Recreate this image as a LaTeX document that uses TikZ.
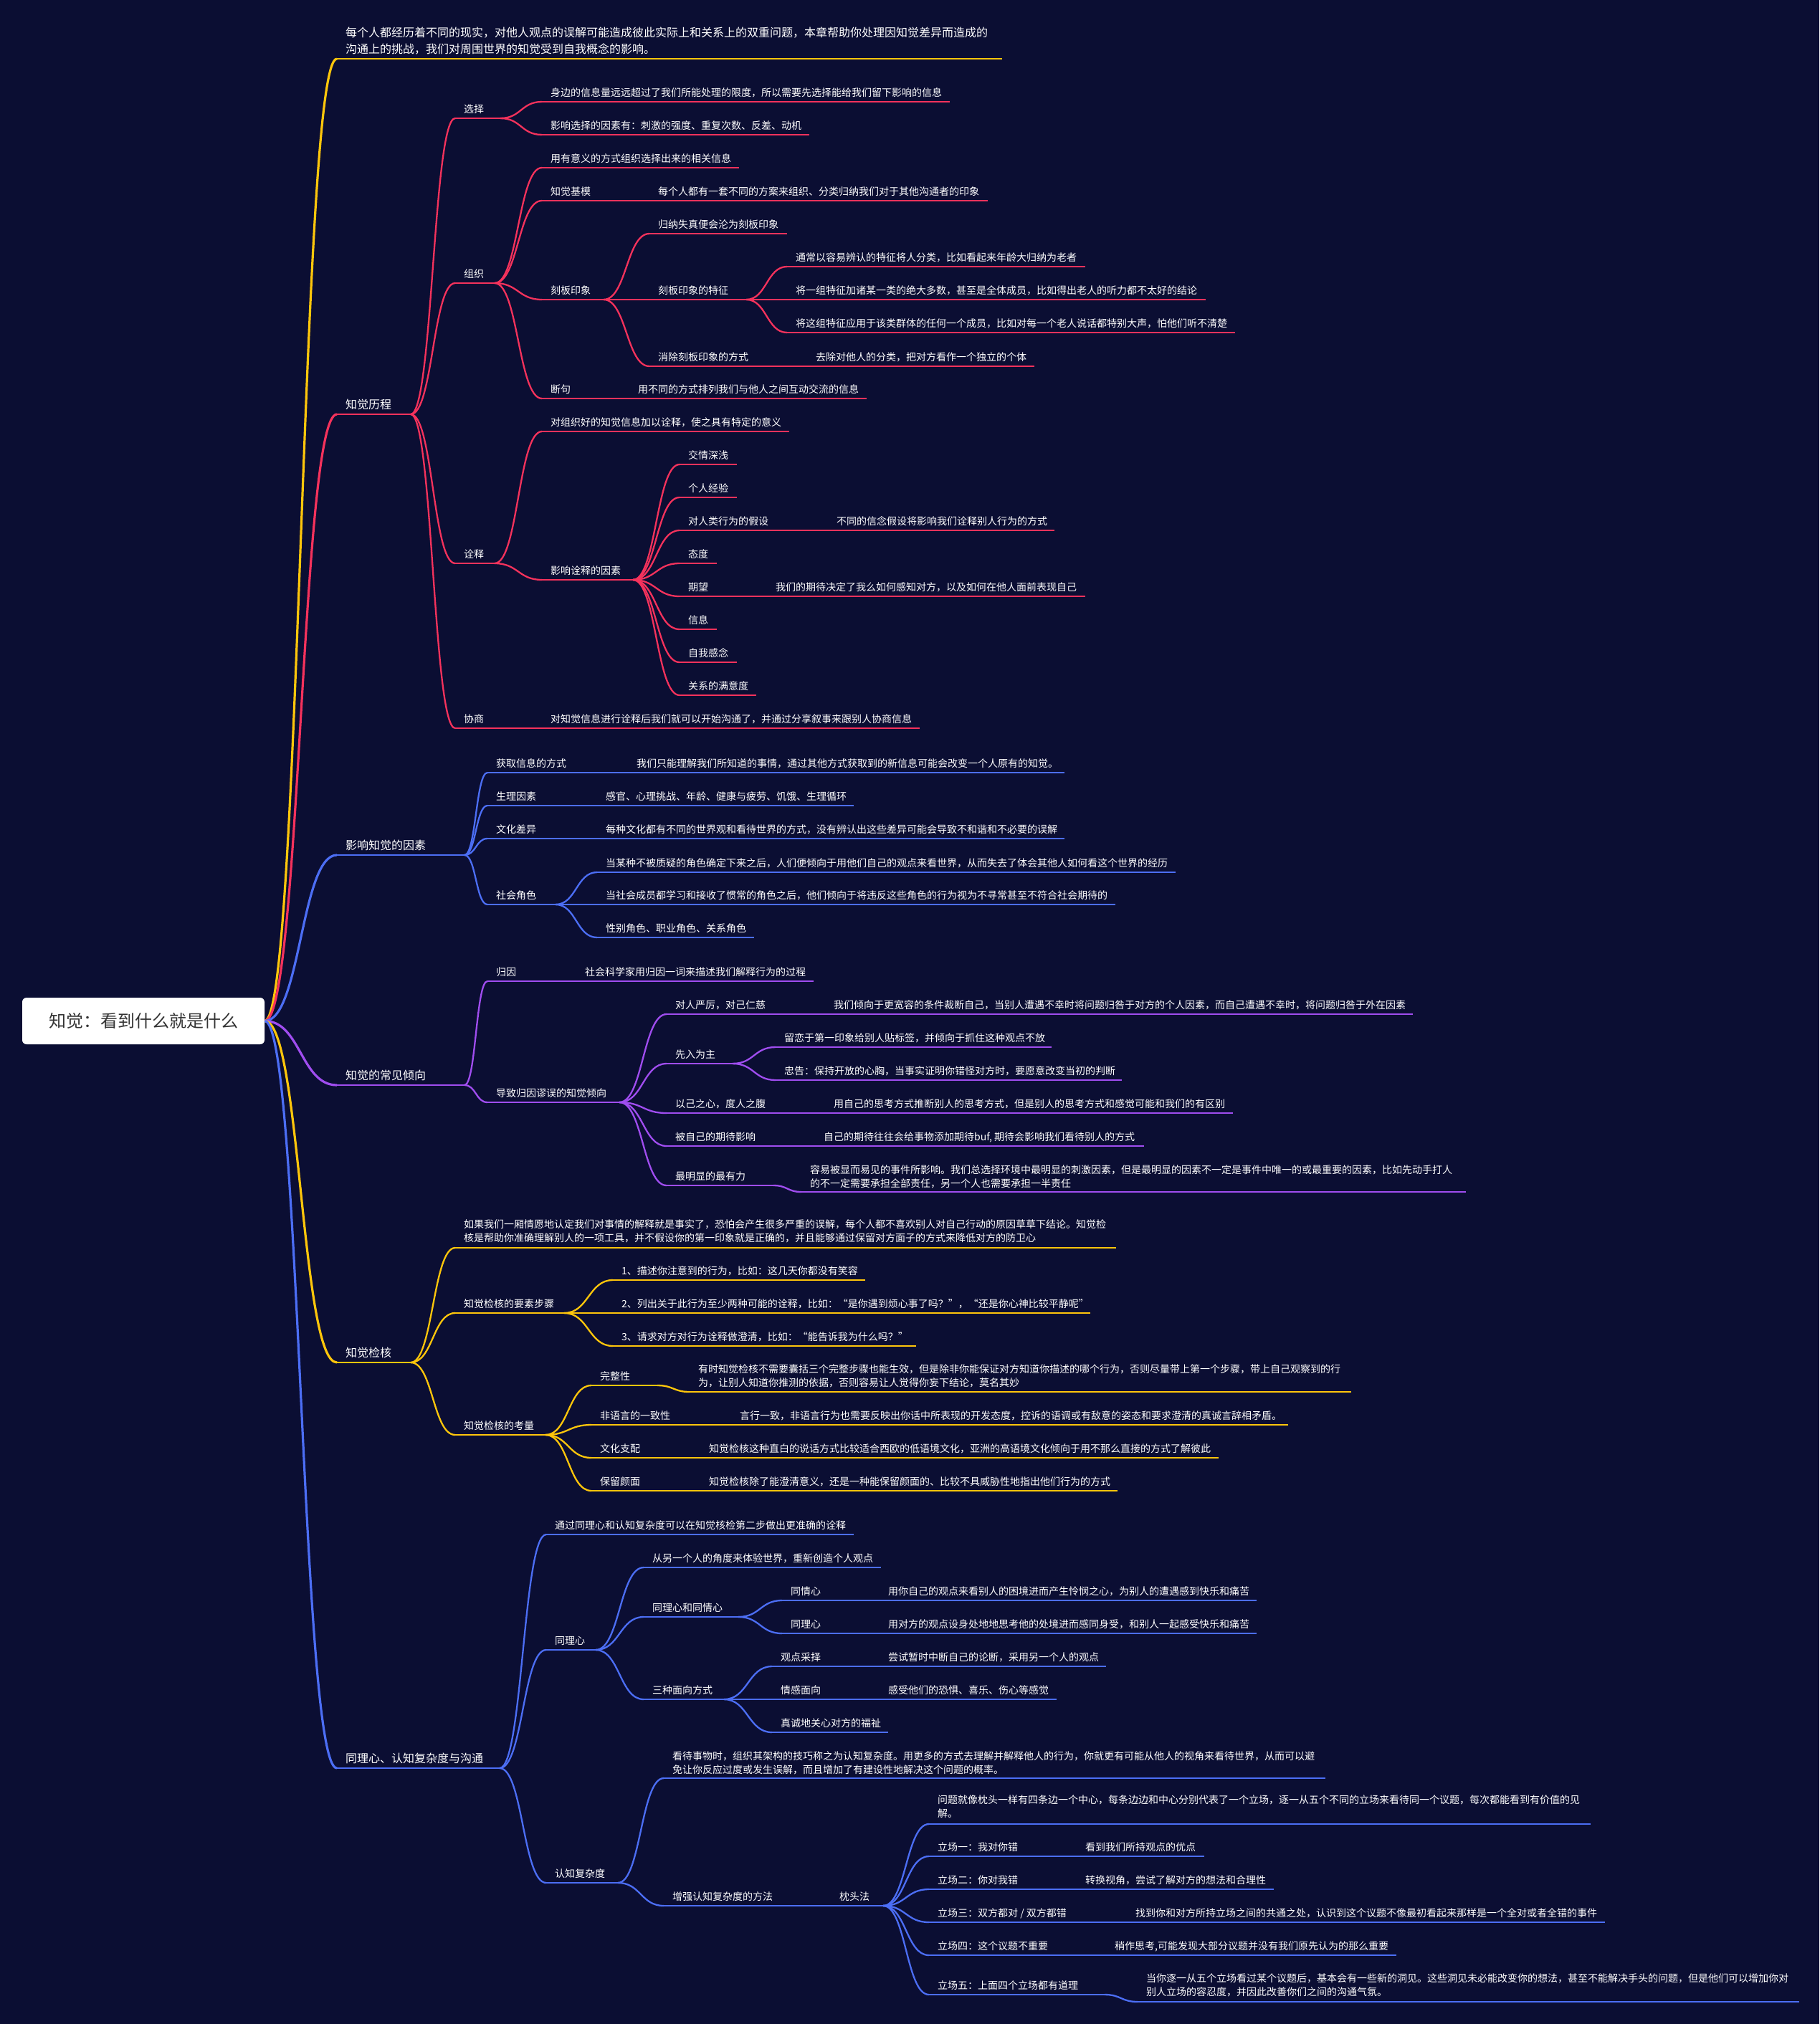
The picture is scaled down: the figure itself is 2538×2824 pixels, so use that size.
\documentclass[tikz,border=0pt]{standalone}
\usepackage{fontspec}
\setmainfont{Noto Sans CJK SC}
\usetikzlibrary{calc}
\definecolor{bg}{HTML}{0B0E33}
\definecolor{cy}{HTML}{FFC60B}
\definecolor{cr}{HTML}{F5325C}
\definecolor{cb}{HTML}{4C6EF5}
\definecolor{cp}{HTML}{A04DF0}
\definecolor{rootgray}{HTML}{333333}
\tikzset{
  ul/.style={line width=2.6pt, draw=#1},
  cn/.style={line width=2.3pt, draw=#1},
  cnA/.style={line width=3.2pt, draw=#1},
  t1/.style={text=white, font=\fontsize{16}{23}\selectfont, inner sep=0pt},
  t2/.style={text=white, font=\fontsize{14}{19}\selectfont, inner sep=0pt},
}
% name, colour, start x, line y, end x, text style, text
\newcommand\Tpc[7]{%
  \coordinate (#1-s) at (#3,#4);
  \coordinate (#1-e) at (#5,#4);
  \draw[ul=#2] (#1-s) -- (#1-e);
  \node[#6, anchor=base west] (#1) at ($(#1-s)+(12,-8)$) {#7};}
% name, colour, start x, line y, end x, text style, last baseline y, text
\newcommand\MTpc[8]{%
  \coordinate (#1-s) at (#3,#4);
  \coordinate (#1-e) at (#5,#4);
  \draw[ul=#2] (#1-s) -- (#1-e);
  \node[#6, anchor=base west, align=left] (#1) at (#3+12,#7) {#8};}
% colour, from, to
\newcommand\Lnk[3]{\draw[cn=#1] let \p1=(#2-e), \p2=(#3-s) in (\p1) .. controls ({0.5*\x1+0.5*\x2},\y1) and ({0.5*\x1+0.5*\x2},\y2) .. (\p2);}
\newcommand\LnkA[3]{\draw[cnA=#1] let \p1=(#2-e), \p2=(#3-s) in (\p1) .. controls ({0.5*\x1+0.5*\x2},\y1) and ({0.5*\x1+0.5*\x2},\y2) .. (\p2);}
\begin{document}
\begin{tikzpicture}[x=1pt,y=-1pt]
\fill[bg] (0,0) rectangle (2538,2824);
\useasboundingbox (0,0) rectangle (2538,2824);

% root
\node[fill=white, rounded corners=6pt, minimum width=338pt, minimum height=65pt, inner sep=0pt, text=rootgray, font=\fontsize{24}{28}\selectfont] (root) at (200,1424.5) {知觉：看到什么就是什么};
\coordinate (root-e) at (root.east);

% level 1
\MTpc{intro}{cy}{470}{82}{1398}{t1}{74}{每个人都经历着不同的现实，对他人观点的误解可能造成彼此实际上和关系上的双重问题，本章帮助你处理因知觉差异而造成的\\沟通上的挑战，我们对周围世界的知觉受到自我概念的影响。}
\Tpc{perc}{cr}{470}{578}{573}{t1}{知觉历程}
\Tpc{fact}{cb}{470}{1193}{648}{t1}{影响知觉的因素}
\Tpc{tend}{cp}{470}{1514}{648}{t1}{知觉的常见倾向}
\Tpc{check}{cy}{470}{1901}{573}{t1}{知觉检核}
\Tpc{emp}{cb}{470}{2467}{697}{t1}{同理心、认知复杂度与沟通}
\LnkA{cy}{root}{intro}
\LnkA{cr}{root}{perc}
\LnkA{cb}{root}{fact}
\LnkA{cp}{root}{tend}
\LnkA{cy}{root}{check}
\LnkA{cb}{root}{emp}

% ---------- 知觉历程 ----------
\Tpc{sel}{cr}{635}{165}{698}{t2}{选择}
\Tpc{sel1}{cr}{756}{142}{1325}{t2}{身边的信息量远远超过了我们所能处理的限度，所以需要先选择能给我们留下影响的信息}
\Tpc{sel2}{cr}{756}{188}{1129}{t2}{影响选择的因素有：刺激的强度、重复次数、反差、动机}
\Tpc{org}{cr}{635}{395}{690}{t2}{组织}
\Tpc{org1}{cr}{756}{234}{1031}{t2}{用有意义的方式组织选择出来的相关信息}
\Tpc{schema}{cr}{756}{280}{900}{t2}{知觉基模}
\Tpc{schema1}{cr}{906}{280}{1378}{t2}{每个人都有一套不同的方案来组织、分类归纳我们对于其他沟通者的印象}
\Tpc{stereo}{cr}{756}{418}{842}{t2}{刻板印象}
\Tpc{st1}{cr}{906}{326}{1098}{t2}{归纳失真便会沦为刻板印象}
\Tpc{stf}{cr}{906}{418}{1041}{t2}{刻板印象的特征}
\Tpc{stf1}{cr}{1098}{372}{1514}{t2}{通常以容易辨认的特征将人分类，比如看起来年龄大归纳为老者}
\Tpc{stf2}{cr}{1098}{418}{1682}{t2}{将一组特征加诸某一类的绝大多数，甚至是全体成员，比如得出老人的听力都不太好的结论}
\Tpc{stf3}{cr}{1098}{464}{1723}{t2}{将这组特征应用于该类群体的任何一个成员，比如对每一个老人说话都特别大声，怕他们听不清楚}
\Tpc{stx}{cr}{906}{511}{1120}{t2}{消除刻板印象的方式}
\Tpc{stx1}{cr}{1126}{511}{1443}{t2}{去除对他人的分类，把对方看作一个独立的个体}
\Tpc{punc}{cr}{756}{556}{872}{t2}{断句}
\Tpc{punc1}{cr}{878}{556}{1209}{t2}{用不同的方式排列我们与他人之间互动交流的信息}
\Tpc{intp}{cr}{635}{786}{690}{t2}{诠释}
\Tpc{intp1}{cr}{756}{602}{1101}{t2}{对组织好的知觉信息加以诠释，使之具有特定的意义}
\Tpc{infl}{cr}{756}{809}{883}{t2}{影响诠释的因素}
\Tpc{f1}{cr}{948}{648}{1028}{t2}{交情深浅}
\Tpc{f2}{cr}{948}{694}{1028}{t2}{个人经验}
\Tpc{f3}{cr}{948}{740}{1149}{t2}{对人类行为的假设}
\Tpc{f3a}{cr}{1155}{740}{1471}{t2}{不同的信念假设将影响我们诠释别人行为的方式}
\Tpc{f4}{cr}{948}{786}{1000}{t2}{态度}
\Tpc{f5}{cr}{948}{832}{1064}{t2}{期望}
\Tpc{f5a}{cr}{1070}{832}{1514}{t2}{我们的期待决定了我么如何感知对方，以及如何在他人面前表现自己}
\Tpc{f6}{cr}{948}{878}{1000}{t2}{信息}
\Tpc{f7}{cr}{948}{924}{1028}{t2}{自我感念}
\Tpc{f8}{cr}{948}{970}{1055}{t2}{关系的满意度}
\Tpc{nego}{cr}{635}{1016}{750}{t2}{协商}
\Tpc{nego1}{cr}{756}{1016}{1283}{t2}{对知觉信息进行诠释后我们就可以开始沟通了，并通过分享叙事来跟别人协商信息}
\foreach \c in {sel,org,intp,nego} {\Lnk{cr}{perc}{\c}}
\foreach \c in {sel1,sel2} {\Lnk{cr}{sel}{\c}}
\foreach \c in {org1,schema,stereo,punc} {\Lnk{cr}{org}{\c}}
\Lnk{cr}{schema}{schema1}
\foreach \c in {st1,stf,stx} {\Lnk{cr}{stereo}{\c}}
\foreach \c in {stf1,stf2,stf3} {\Lnk{cr}{stf}{\c}}
\Lnk{cr}{stx}{stx1}
\Lnk{cr}{punc}{punc1}
\foreach \c in {intp1,infl} {\Lnk{cr}{intp}{\c}}
\foreach \c in {f1,f2,f3,f4,f5,f6,f7,f8} {\Lnk{cr}{infl}{\c}}
\Lnk{cr}{f3}{f3a}
\Lnk{cr}{f5}{f5a}
\Lnk{cr}{nego}{nego1}

% ---------- 影响知觉的因素 ----------
\Tpc{acq}{cb}{680}{1078}{870}{t2}{获取信息的方式}
\Tpc{acq1}{cb}{876}{1078}{1485}{t2}{我们只能理解我们所知道的事情，通过其他方式获取到的新信息可能会改变一个人原有的知觉。}
\Tpc{phys}{cb}{680}{1124}{827}{t2}{生理因素}
\Tpc{phys1}{cb}{833}{1124}{1191}{t2}{感官、心理挑战、年龄、健康与疲劳、饥饿、生理循环}
\Tpc{cult}{cb}{680}{1170}{827}{t2}{文化差异}
\Tpc{cult1}{cb}{833}{1170}{1485}{t2}{每种文化都有不同的世界观和看待世界的方式，没有辨认出这些差异可能会导致不和谐和不必要的误解}
\Tpc{role}{cb}{680}{1262}{775}{t2}{社会角色}
\Tpc{role1}{cb}{833}{1217}{1640}{t2}{当某种不被质疑的角色确定下来之后，人们便倾向于用他们自己的观点来看世界，从而失去了体会其他人如何看这个世界的经历}
\Tpc{role2}{cb}{833}{1262}{1556}{t2}{当社会成员都学习和接收了惯常的角色之后，他们倾向于将违反这些角色的行为视为不寻常甚至不符合社会期待的}
\Tpc{role3}{cb}{833}{1308}{1052}{t2}{性别角色、职业角色、关系角色}
\foreach \c in {acq,phys,cult,role} {\Lnk{cb}{fact}{\c}}
\Lnk{cb}{acq}{acq1}
\Lnk{cb}{phys}{phys1}
\Lnk{cb}{cult}{cult1}
\foreach \c in {role1,role2,role3} {\Lnk{cb}{role}{\c}}

% ---------- 知觉的常见倾向 ----------
\Tpc{attr}{cp}{680}{1369}{798}{t2}{归因}
\Tpc{attr1}{cp}{804}{1369}{1135}{t2}{社会科学家用归因一词来描述我们解释行为的过程}
\Tpc{err}{cp}{680}{1538}{864}{t2}{导致归因谬误的知觉倾向}
\Tpc{e1}{cp}{930}{1415}{1145}{t2}{对人严厉，对己仁慈}
\Tpc{e1a}{cp}{1151}{1415}{1971}{t2}{我们倾向于更宽容的条件裁断自己，当别人遭遇不幸时将问题归咎于对方的个人因素，而自己遭遇不幸时，将问题归咎于外在因素}
\Tpc{e2}{cp}{930}{1484}{1022}{t2}{先入为主}
\Tpc{e2a}{cp}{1082}{1461}{1467}{t2}{留恋于第一印象给别人贴标签，并倾向于抓住这种观点不放}
\Tpc{e2b}{cp}{1082}{1507}{1565}{t2}{忠告：保持开放的心胸，当事实证明你错怪对方时，要愿意改变当初的判断}
\Tpc{e3}{cp}{930}{1553}{1145}{t2}{以己之心，度人之腹}
\Tpc{e3a}{cp}{1151}{1553}{1720}{t2}{用自己的思考方式推断别人的思考方式，但是别人的思考方式和感觉可能和我们的有区别}
\Tpc{e4}{cp}{930}{1599}{1131}{t2}{被自己的期待影响}
\Tpc{e4a}{cp}{1137}{1599}{1596}{t2}{自己的期待往往会给事物添加期待buf, 期待会影响我们看待别人的方式}
\Tpc{e5}{cp}{930}{1654}{1079}{t2}{最明显的最有力}
\MTpc{e5a}{cp}{1118}{1663}{2045}{t2}{1656}{容易被显而易见的事件所影响。我们总选择环境中最明显的刺激因素，但是最明显的因素不一定是事件中唯一的或最重要的因素，比如先动手打人\\的不一定需要承担全部责任，另一个人也需要承担一半责任}
\foreach \c in {attr,err} {\Lnk{cp}{tend}{\c}}
\Lnk{cp}{attr}{attr1}
\foreach \c in {e1,e2,e3,e4,e5} {\Lnk{cp}{err}{\c}}
\Lnk{cp}{e1}{e1a}
\foreach \c in {e2a,e2b} {\Lnk{cp}{e2}{\c}}
\Lnk{cp}{e3}{e3a}
\Lnk{cp}{e4}{e4a}
\Lnk{cp}{e5}{e5a}

% ---------- 知觉检核 ----------
\MTpc{chk0}{cy}{635}{1741}{1557}{t2}{1732}{如果我们一厢情愿地认定我们对事情的解释就是事实了，恐怕会产生很多严重的误解，每个人都不喜欢别人对自己行动的原因草草下结论。知觉检\\核是帮助你准确理解别人的一项工具，并不假设你的第一印象就是正确的，并且能够通过保留对方面子的方式来降低对方的防卫心}
\Tpc{steps}{cy}{635}{1832}{787}{t2}{知觉检核的要素步骤}
\Tpc{s1}{cy}{855}{1786}{1207}{t2}{1、描述你注意到的行为，比如：这几天你都没有笑容}
\Tpc{s2}{cy}{855}{1832}{1521}{t2}{2、列出关于此行为至少两种可能的诠释，比如：“是你遇到烦心事了吗？”，“还是你心神比较平静呢”}
\Tpc{s3}{cy}{855}{1878}{1278}{t2}{3、请求对方对行为诠释做澄清，比如：“能告诉我为什么吗？”}
\Tpc{cons}{cy}{635}{2002}{761}{t2}{知觉检核的考量}
\Tpc{c1}{cy}{825}{1933}{917}{t2}{完整性}
\MTpc{c1a}{cy}{962}{1942}{1885}{t2}{1934}{有时知觉检核不需要囊括三个完整步骤也能生效，但是除非你能保证对方知道你描述的哪个行为，否则尽量带上第一个步骤，带上自己观察到的行\\为，让别人知道你推测的依据，否则容易让人觉得你妄下结论，莫名其妙}
\Tpc{c2}{cy}{825}{1988}{1014}{t2}{非语言的一致性}
\Tpc{c2a}{cy}{1020}{1988}{1797}{t2}{言行一致，非语言行为也需要反映出你话中所表现的开发态度，控诉的语调或有敌意的姿态和要求澄清的真诚言辞相矛盾。}
\Tpc{c3}{cy}{825}{2034}{971}{t2}{文化支配}
\Tpc{c3a}{cy}{977}{2034}{1700}{t2}{知觉检核这种直白的说话方式比较适合西欧的低语境文化，亚洲的高语境文化倾向于用不那么直接的方式了解彼此}
\Tpc{c4}{cy}{825}{2080}{971}{t2}{保留颜面}
\Tpc{c4a}{cy}{977}{2080}{1559}{t2}{知觉检核除了能澄清意义，还是一种能保留颜面的、比较不具威胁性地指出他们行为的方式}
\foreach \c in {chk0,steps,cons} {\Lnk{cy}{check}{\c}}
\foreach \c in {s1,s2,s3} {\Lnk{cy}{steps}{\c}}
\foreach \c in {c1,c2,c3,c4} {\Lnk{cy}{cons}{\c}}
\Lnk{cy}{c1}{c1a}
\Lnk{cy}{c2}{c2a}
\Lnk{cy}{c3}{c3a}
\Lnk{cy}{c4}{c4a}

% ---------- 同理心、认知复杂度与沟通 ----------
\Tpc{g0}{cb}{762}{2141}{1191}{t2}{通过同理心和认知复杂度可以在知觉核检第二步做出更准确的诠释}
\Tpc{emp1}{cb}{762}{2302}{831}{t2}{同理心}
\Tpc{em1}{cb}{898}{2187}{1229}{t2}{从另一个人的角度来体验世界，重新创造个人观点}
\Tpc{em2}{cb}{898}{2256}{1030}{t2}{同理心和同情心}
\Tpc{em2a}{cb}{1091}{2233}{1221}{t2}{同情心}
\Tpc{em2a1}{cb}{1227}{2233}{1753}{t2}{用你自己的观点来看别人的困境进而产生怜悯之心，为别人的遭遇感到快乐和痛苦}
\Tpc{em2b}{cb}{1091}{2279}{1221}{t2}{同理心}
\Tpc{em2b1}{cb}{1227}{2279}{1753}{t2}{用对方的观点设身处地地思考他的处境进而感同身受，和别人一起感受快乐和痛苦}
\Tpc{em3}{cb}{898}{2371}{1010}{t2}{三种面向方式}
\Tpc{em3a}{cb}{1077}{2325}{1221}{t2}{观点采择}
\Tpc{em3a1}{cb}{1227}{2325}{1543}{t2}{尝试暂时中断自己的论断，采用另一个人的观点}
\Tpc{em3b}{cb}{1077}{2371}{1221}{t2}{情感面向}
\Tpc{em3b1}{cb}{1227}{2371}{1474}{t2}{感受他们的恐惧、喜乐、伤心等感觉}
\Tpc{em3c}{cb}{1077}{2417}{1239}{t2}{真诚地关心对方的福祉}
\Tpc{cog}{cb}{762}{2627}{862}{t2}{认知复杂度}
\MTpc{cg1}{cb}{926}{2481}{1849}{t2}{2474}{看待事物时，组织其架构的技巧称之为认知复杂度。用更多的方式去理解并解释他人的行为，你就更有可能从他人的视角来看待世界，从而可以避\\免让你反应过度或发生误解，而且增加了有建设性地解决这个问题的概率。}
\Tpc{cg2}{cb}{926}{2659}{1153}{t2}{增强认知复杂度的方法}
\Tpc{pil}{cb}{1159}{2659}{1232}{t2}{枕头法}
\MTpc{p0}{cb}{1296}{2545}{2219}{t2}{2535}{问题就像枕头一样有四条边一个中心，每条边边和中心分别代表了一个立场，逐一从五个不同的立场来看待同一个议题，每次都能看到有价值的见\\解。}
\Tpc{p1}{cb}{1296}{2590}{1496}{t2}{立场一：我对你错}
\Tpc{p1a}{cb}{1502}{2590}{1680}{t2}{看到我们所持观点的优点}
\Tpc{p2}{cb}{1296}{2636}{1496}{t2}{立场二：你对我错}
\Tpc{p2a}{cb}{1502}{2636}{1777}{t2}{转换视角，尝试了解对方的想法和合理性}
\Tpc{p3}{cb}{1296}{2682}{1566}{t2}{立场三：双方都对 / 双方都错}
\Tpc{p3a}{cb}{1572}{2682}{2239}{t2}{找到你和对方所持立场之间的共通之处，认识到这个议题不像最初看起来那样是一个全对或者全错的事件}
\Tpc{p4}{cb}{1296}{2728}{1537}{t2}{立场四：这个议题不重要}
\Tpc{p4a}{cb}{1543}{2728}{1948}{t2}{稍作思考,可能发现大部分议题并没有我们原先认为的那么重要}
\Tpc{p5}{cb}{1296}{2783}{1541}{t2}{立场五：上面四个立场都有道理}
\MTpc{p5a}{cb}{1587}{2793}{2510}{t2}{2784}{当你逐一从五个立场看过某个议题后，基本会有一些新的洞见。这些洞见未必能改变你的想法，甚至不能解决手头的问题，但是他们可以增加你对\\别人立场的容忍度，并因此改善你们之间的沟通气氛。}
\foreach \c in {g0,emp1,cog} {\Lnk{cb}{emp}{\c}}
\foreach \c in {em1,em2,em3} {\Lnk{cb}{emp1}{\c}}
\foreach \c in {em2a,em2b} {\Lnk{cb}{em2}{\c}}
\Lnk{cb}{em2a}{em2a1}
\Lnk{cb}{em2b}{em2b1}
\foreach \c in {em3a,em3b,em3c} {\Lnk{cb}{em3}{\c}}
\Lnk{cb}{em3a}{em3a1}
\Lnk{cb}{em3b}{em3b1}
\foreach \c in {cg1,cg2} {\Lnk{cb}{cog}{\c}}
\Lnk{cb}{cg2}{pil}
\foreach \c in {p0,p1,p2,p3,p4,p5} {\Lnk{cb}{pil}{\c}}
\Lnk{cb}{p1}{p1a}
\Lnk{cb}{p2}{p2a}
\Lnk{cb}{p3}{p3a}
\Lnk{cb}{p4}{p4a}
\Lnk{cb}{p5}{p5a}
\end{tikzpicture}
\end{document}
